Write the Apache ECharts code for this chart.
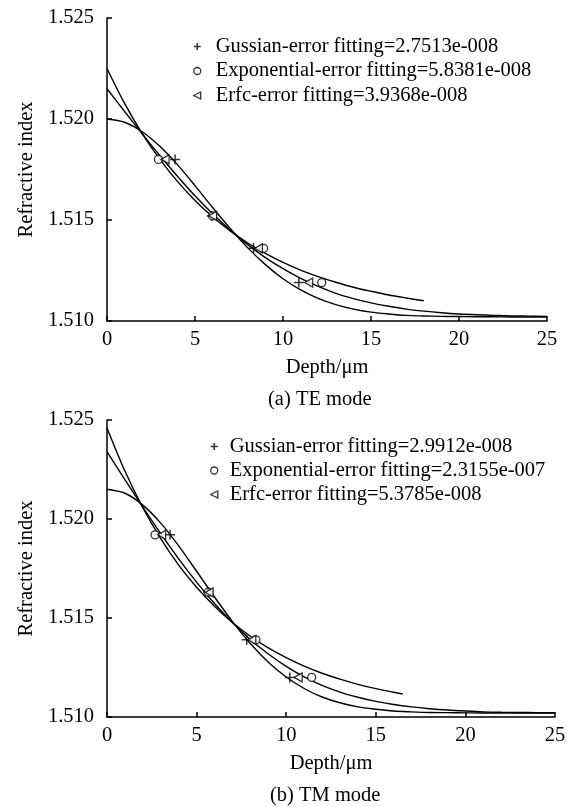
<!DOCTYPE html>
<html><head><meta charset="utf-8">
<script src="https://cdn.jsdelivr.net/npm/echarts/dist/echarts.min.js"></script>
<style>html,body{margin:0;padding:0;background:#fff}#c{width:572px;height:807px}</style>
</head><body><div id="c"></div><script>
// ---- data ----
const depthFull = [0,1,2,3,4,5,6,7,8,9,10,11,12,13,14,15,16,17,18,19,20,21,22,23,24,25];
const depthTEexp = [0,1,2,3,4,5,6,7,8,9,10,11,12,13,14,15,16,17,18];
const depthTMexp = [0,1,2,3,4,5,6,7,8,9,10,11,12,13,14,15,16,16.5];

const teGaussCurve = [1.5200,1.51984,1.51937,1.51865,1.51774,1.51670,1.51562,1.51458,1.51362,1.51279,1.51209,1.51154,1.51112,1.51081,1.51059,1.51044,1.51035,1.51028,1.51025,1.51023,1.51022,1.51021,1.51021,1.51020,1.51020,1.51020];
const teExpCurve = [1.5225,1.52077,1.51928,1.51801,1.51691,1.51597,1.51516,1.51446,1.51386,1.51335,1.51290,1.51252,1.51220,1.51192,1.51167,1.51147,1.51129,1.51114,1.51100];
const teErfcCurve = [1.5215,1.52037,1.51927,1.51819,1.51717,1.51620,1.51531,1.51450,1.51378,1.51314,1.51259,1.51211,1.51171,1.51137,1.51111,1.51090,1.51073,1.51059,1.51049,1.51041,1.51035,1.51031,1.51028,1.51025,1.51024,1.51022];

const tmGaussCurve = [1.5215,1.52130,1.52070,1.51979,1.51864,1.51736,1.51606,1.51482,1.51371,1.51277,1.51202,1.51144,1.51101,1.51072,1.51051,1.51039,1.51030,1.51026,1.51023,1.51022,1.51021,1.51020,1.51020,1.51020,1.51020,1.51020];
const tmExpCurve = [1.5246,1.52242,1.52057,1.51901,1.51767,1.51655,1.51559,1.51477,1.51408,1.51349,1.51300,1.51257,1.51221,1.51191,1.51165,1.51143,1.51125,1.51116];
const tmErfcCurve = [1.5234,1.52199,1.52060,1.51926,1.51799,1.51681,1.51573,1.51477,1.51391,1.51318,1.51256,1.51203,1.51160,1.51126,1.51100,1.51079,1.51063,1.51051,1.51042,1.51035,1.51030,1.51026,1.51024,1.51023,1.51022,1.51021];

const teIndex = [1.5180,1.5152,1.5136,1.5119];
const teGaussDepth = [3.87,5.95,8.33,10.9];
const teExpDepth = [2.92,6.0,8.9,12.2];
const teErfcDepth = [3.3,6.0,8.6,11.46];

const tmIndex = [1.5192,1.5163,1.5139,1.5120];
const tmGaussDepth = [3.52,5.65,7.8,10.2];
const tmExpDepth = [2.68,5.65,8.31,11.42];
const tmErfcDepth = [3.05,5.7,8.08,10.67];

const teNames = ['Gussian-error fitting=2.7513e-008','Exponential-error fitting=5.8381e-008','Erfc-error fitting=3.9368e-008'];
const tmNames = ['Gussian-error fitting=2.9912e-008','Exponential-error fitting=2.3155e-007','Erfc-error fitting=5.3785e-008'];
const yTicks = [1.510,1.515,1.520,1.525];
const xTicks = [0,5,10,15,20,25];

// ---- building ----
const FONT = "'Liberation Serif','Times New Roman',serif";
const FS = 20.5;
const pair = (xs, ys) => xs.map((x,i)=>[x, ys[i]]);
const plusPath = 'path://M5,0 L5,10 M0,5 L10,5';
const triPath = 'path://M0,5 L10,0 L10,10 Z';
const symStyle = [
  {symbol: plusPath, symbolSize: 10, itemStyle:{color:'#000', borderColor:'#000', borderWidth:1.5}},
  {symbol: 'circle', symbolSize: 8, itemStyle:{color:'#fff', borderColor:'#000', borderWidth:1.3}},
  {symbol: triPath, symbolSize: [8,9], itemStyle:{color:'#fff', borderColor:'#000', borderWidth:1.3}}
];

function lineSeries(idx, xs, ys){
  return {type:'line', xAxisIndex:idx, yAxisIndex:idx, data:pair(xs,ys), smooth:0.3, showSymbol:false, symbol:'none',
    lineStyle:{color:'#000', width:1.4}, silent:true, z:2};
}
function scatterSeries(idx, name, xs, ys, k){
  return Object.assign({type:'scatter', name:name, xAxisIndex:idx, yAxisIndex:idx, data:pair(xs,ys), z:3}, symStyle[k]);
}
function xAx(idx){
  return {gridIndex:idx, type:'value', min:xTicks[0], max:xTicks[xTicks.length-1], interval:5,
    name:'Depth/μm', nameLocation:'middle', nameGap:36,
    nameTextStyle:{fontFamily:FONT, fontSize:FS, color:'#000'},
    axisLine:{lineStyle:{color:'#000', width:1.5}},
    axisTick:{inside:true, length:5, lineStyle:{color:'#000', width:1.5}},
    axisLabel:{fontFamily:FONT, fontSize:FS, color:'#000', margin:8},
    splitLine:{show:false}};
}
function yAx(idx){
  return {gridIndex:idx, type:'value', min:yTicks[0], max:yTicks[yTicks.length-1], interval:0.005,
    name:'Refractive index', nameLocation:'middle', nameGap:68,
    nameTextStyle:{fontFamily:FONT, fontSize:FS, color:'#000'},
    axisLine:{show:true, lineStyle:{color:'#000', width:1.5}},
    axisTick:{show:true, inside:true, length:5, lineStyle:{color:'#000', width:1.5}},
    axisLabel:{fontFamily:FONT, fontSize:FS, color:'#000', margin:13, formatter:v=>v.toFixed(3)},
    splitLine:{show:false}};
}
function legendFor(names, left, top, gap, pad){
  return {orient:'vertical', left:left, top:top, itemWidth:7, itemHeight:7, itemGap:gap,
    textStyle:{fontFamily:FONT, fontSize:FS, color:'#000', padding:[0,0,0,pad]},
    selectedMode:false,
    data:names.map((n,k)=>({name:n, icon:symStyle[k].symbol==='circle'?'circle':symStyle[k].symbol, itemStyle:symStyle[k].itemStyle}))};
}

const chart = echarts.init(document.getElementById('c'));
chart.setOption({
  backgroundColor:'#fff',
  animation:false,
  title:[
    {text:'(a) TE mode', left:263, top:384, textStyle:{fontFamily:FONT, fontSize:FS, fontWeight:'normal', color:'#000'}},
    {text:'(b) TM mode', left:265, top:780, textStyle:{fontFamily:FONT, fontSize:FS, fontWeight:'normal', color:'#000'}}
  ],
  grid:[
    {left:107, top:18, width:440, height:303},
    {left:107, top:420, width:448, height:297}
  ],
  xAxis:[xAx(0), xAx(1)],
  yAxis:[yAx(0), yAx(1)],
  legend:[legendFor(teNames, 188, 31, 3.5, 10), legendFor(tmNames, 205, 431, 3, 7)],
  series:[
    lineSeries(0, depthFull, teGaussCurve),
    lineSeries(0, depthTEexp, teExpCurve),
    lineSeries(0, depthFull, teErfcCurve),
    scatterSeries(0, teNames[0], teGaussDepth, teIndex, 0),
    scatterSeries(0, teNames[1], teExpDepth, teIndex, 1),
    scatterSeries(0, teNames[2], teErfcDepth, teIndex, 2),
    lineSeries(1, depthFull, tmGaussCurve),
    lineSeries(1, depthTMexp, tmExpCurve),
    lineSeries(1, depthFull, tmErfcCurve),
    scatterSeries(1, tmNames[0], tmGaussDepth, tmIndex, 0),
    scatterSeries(1, tmNames[1], tmExpDepth, tmIndex, 1),
    scatterSeries(1, tmNames[2], tmErfcDepth, tmIndex, 2)
  ]
});
</script></body></html>
